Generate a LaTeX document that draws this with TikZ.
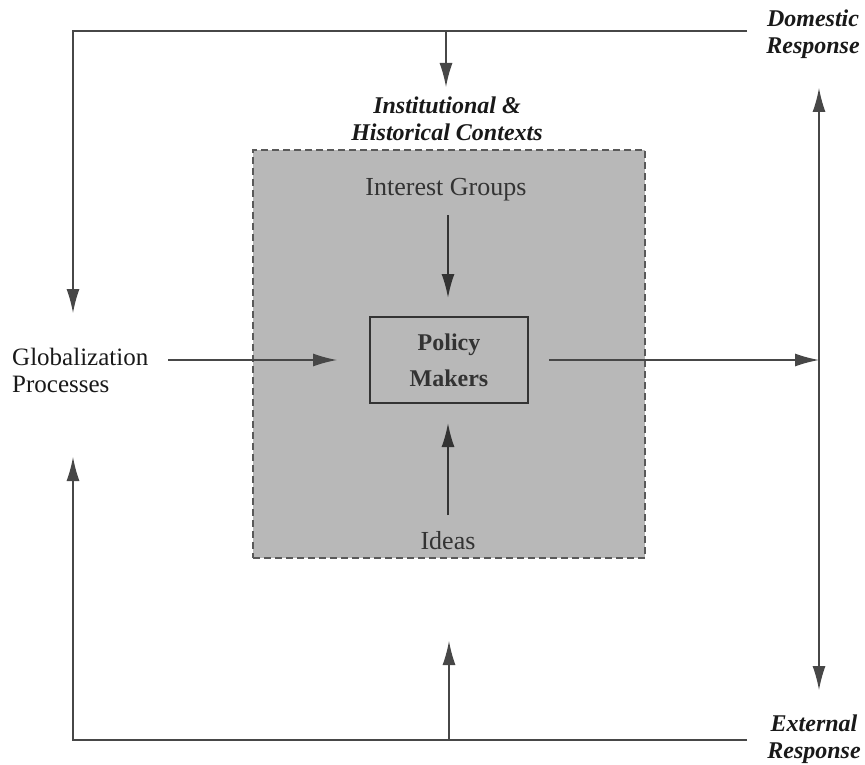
\documentclass[tikz,border=0pt]{standalone}
\usepackage{fontspec}
\setmainfont{Liberation Serif}
\usetikzlibrary{arrows.meta}
\begin{document}
\begin{tikzpicture}[x=1pt,y=-1pt,
  conn/.style={draw=black!72, line width=1.3pt},
  arr/.style={conn, -{Latex[length=24pt,width=13pt]}},
  darr/.style={conn, {Latex[length=24pt,width=13pt]}-{Latex[length=24pt,width=13pt]}},
  lab/.style={inner sep=0pt, align=center, text=black!90, font=\bfseries\itshape\fontsize{24}{27}\selectfont},
  plain/.style={inner sep=0pt, align=center, text=black!80, font=\fontsize{26}{27}\selectfont},
  ctxbox/.style={draw=black!65, dash pattern=on 7pt off 4pt, line width=1.8pt, fill=black!28, inner sep=0pt},
  pmbox/.style={draw=black!80, line width=2.4pt, fill=black!28, inner sep=0pt, align=center, text=black!80, font=\bfseries\fontsize{24}{36}\selectfont}]
\useasboundingbox (0,0) rectangle (865,765);

% shaded context
\node[ctxbox, minimum width=392pt, minimum height=408pt] (ctx) at (449,354) {};

% texts
\node[lab] (dom) at (813,34) {Domestic\\Response};
\node[lab] (ext) at (814,739) {External\\Response};
\node[lab] (inst) at (447,119) {Institutional \&\\Historical Contexts};
\node[plain, text=black!90, align=left, anchor=west, font=\fontsize{25}{27}\selectfont] (glob) at (12,370) {Globalization\\Processes};
\node[plain] (ig) at (446,190) {Interest Groups};
\node[plain] (ideas) at (448,541) {Ideas};
\node[pmbox, minimum width=158pt, minimum height=86pt] (pm) at (449,360) {Policy\\Makers};

% coordinates
\coordinate (tl) at (73,31);
\coordinate (tr) at (747,31);
\coordinate (bl) at (73,740);
\coordinate (br) at (747,740);
\coordinate (ltip) at (73,313);
\coordinate (lbtip) at (73,457);
\coordinate (ttop) at (446,31);
\coordinate (ttip) at (446,87);
\coordinate (bbot) at (449,740);
\coordinate (btip) at (449,641);
\coordinate (rtop) at (819,88);
\coordinate (rbot) at (819,690);
\coordinate (rmid) at (819,360);
\coordinate (gstart) at (168,360);
\coordinate (gtip) at (337,360);
\coordinate (pmout) at (549,360);
\coordinate (igs) at (448,215);
\coordinate (igt) at (448,298);
\coordinate (ids) at (448,515);
\coordinate (idt) at (448,423);

% connectors
\draw[arr] (tr) -- (tl) -- (ltip);
\draw[arr] (br) -- (bl) -- (lbtip);
\draw[arr] (ttop) -- (ttip);
\draw[arr] (bbot) -- (btip);
\draw[darr] (rtop) -- (rbot);
\draw[arr] (gstart) -- (gtip);
\draw[arr] (pmout) -- (rmid);
\draw[arr, draw=black!80, line width=1.8pt] (igs) -- (igt);
\draw[arr, draw=black!80, line width=1.8pt] (ids) -- (idt);
\end{tikzpicture}
\end{document}
